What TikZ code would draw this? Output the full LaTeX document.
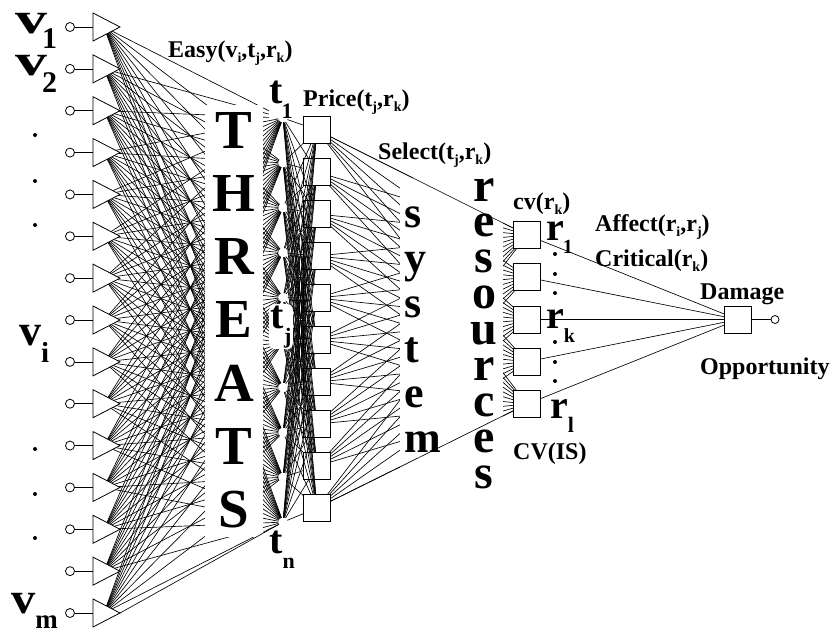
\documentclass[tikz,border=0pt]{standalone}
\usepackage{graphicx}
\usepackage{fontspec}
\setmainfont{Liberation Serif}
\newcommand\fsz[1]{\fontsize{#1}{#1}\selectfont}
\newcommand\lsb[1]{\raisebox{-5pt}{\fsz{14}#1}}
\begin{document}
\begin{tikzpicture}[x=1pt,y=-1pt,
  conn/.style={line width=0.65pt},
  inport/.style={circle,draw,line width=0.8pt,fill=white,minimum size=9pt,inner sep=0pt},
  hub/.style={circle,inner sep=0pt,minimum size=0pt},
  trishape/.style={draw,line width=0.8pt,fill=white},
  tnode/.style={circle,fill=white,minimum size=9pt,inner sep=0pt,path picture={\fill (path picture bounding box.center) circle (1.7pt);}},
  sqbox/.style={rectangle,draw,line width=0.8pt,fill=white,minimum size=27pt,inner sep=0pt},
  bigl/.style={font=\fsz{55}\bfseries,inner sep=0pt,anchor=base},
  sysl/.style={font=\fsz{44}\bfseries,inner sep=0pt,anchor=base west},
  resl/.style={font=\fsz{48}\bfseries,inner sep=0pt,anchor=base},
  lab/.style={font=\fsz{24}\bfseries,inner sep=0pt,anchor=base west},
  sym/.style={font=\bfseries,inner sep=0pt,anchor=base west},
  dotm/.style={fill,circle,minimum size=4pt,inner sep=0pt},
]
\useasboundingbox (0,0) rectangle (835,635);
% inputs (hub node inside each triangle)
\foreach \i in {1,...,15}{
  \pgfmathsetmacro\yy{27+41.857*(\i-1)}
  \node[inport] (c\i) at (70,\yy) {};
  \node[hub] (v\i) at (104,\yy) {};
}
% threat nodes
\foreach \j in {1,...,10}{
  \pgfmathsetmacro\yy{118+44.9*(\j-1)}
  \node[tnode] (t\j) at (283,\yy) {};
}
% system squares
\foreach \k in {1,...,10}{
  \pgfmathsetmacro\yy{130+42*(\k-1)}
  \node[sqbox] (s\k) at (317,\yy) {};
}
% resource squares
\foreach \k in {1,...,5}{
  \pgfmathsetmacro\yy{235+42.25*(\k-1)}
  \node[sqbox] (r\k) at (527,\yy) {};
}
\node[sqbox] (dmg) at (738,319.5) {};
\node[inport,minimum size=8pt] (out) at (775,319.5) {};
\draw[conn] (dmg) -- (out);
% connections
\foreach \i in {1,...,15}{
  \draw[conn] (c\i) -- (v\i);
  \foreach \j in {1,...,10}{\draw[conn] (v\i) -- (t\j);}
}
\foreach \j in {1,...,10}{\foreach \k in {1,...,10}{\draw[conn] (t\j) -- (s\k);}}
\foreach \k in {1,...,10}{\foreach \l in {1,...,5}{\draw[conn] (s\k) -- (r\l);}}
\foreach \l in {1,...,5}{\draw[conn] (r\l) -- (dmg);}
% input triangles drawn over the line starts
\foreach \i in {1,...,15}{
  \pgfmathsetmacro\yy{27+41.857*(\i-1)}
  \draw[trishape] (120,\yy) -- (93,\yy-14) -- (93,\yy+14) -- cycle;
}
% white columns behind the big words
\fill[white] (205,105) rectangle (263,537);
\fill[white] (400,178) rectangle (503,470);
\draw[conn] (s1) -- (r1);
\draw[conn] (s10) -- (r5);
\draw[conn] (120,613) -- (t10);
% big words
\foreach \ch [count=\n] in {T,H,R,E,A,T,S}{
  \pgfmathsetmacro\yy{148+63.3*(\n-1)}
  \node[bigl] (th\n) at (234,\yy) {\ch};
}
\foreach \ch [count=\n] in {s,y,s,t,e,m}{
  \pgfmathsetmacro\yy{227+45*(\n-1)}
  \node[sysl] (sy\n) at (404,\yy) {\ch};
}
\foreach \ch [count=\n] in {r,e,s,o,u,r,c,e,s}{
  \pgfmathsetmacro\yy{201+35.9*(\n-1)}
  \node[resl] (re\n) at (484,\yy) {\ch};
}
% t labels
\node[sym,fill=white] (tl1) at (269,103) {\fsz{40}t\kern-1pt\raisebox{-15pt}{\fsz{22}1}};
\node[sym,fill=white,rounded corners=6pt,inner sep=1.5pt] (tlj) at (269,328) {\fsz{40}t\raisebox{-15pt}{\fsz{22}j}};
\node[sym,fill=white] (tln) at (269,553) {\fsz{40}t\raisebox{-15pt}{\fsz{22}n}};
% v labels
\node[sym] (lv1) at (15,33) {\scalebox{1.45}[1]{\fsz{44}v}\kern-5pt\raisebox{-15pt}{\fsz{30}1}};
\node[sym] (lv2) at (15,75) {\scalebox{1.45}[1]{\fsz{44}v}\kern-5pt\raisebox{-17pt}{\fsz{30}2}};
\node[sym] (lvi) at (19,345) {\fsz{44}v\raisebox{-17pt}{\fsz{29}i}};
\node[sym] (lvm) at (11,613) {\scalebox{1.1}[1]{\fsz{44}v}\raisebox{-15pt}{\fsz{27}m}};
\foreach \yy [count=\n] in {135,181,225,449,494,538}{
  \node[dotm] (vd\n) at (35,\yy) {};
}
% r labels
\node[sym] (lr1) at (546,240) {\fsz{40}r\kern-1pt\raisebox{-13pt}{\fsz{20}1}};
\node[sym] (lrk) at (546,328) {\fsz{40}r\raisebox{-14pt}{\fsz{20}k}};
\node[sym] (lrl) at (550,418) {\fsz{40}r\raisebox{-14pt}{\fsz{22}l}};
\foreach \yy [count=\n] in {254,274,293,342,362,381}{
  \node[dotm] (rd\n) at (555,\yy) {};
}
% text labels
\node[lab] (easy) at (168,57) {Easy(v\lsb{i},t\lsb{j},r\lsb{k})};
\node[lab] (price) at (303,106) {Price(t\lsb{j},r\lsb{k})};
\node[lab] (select) at (378,159) {Select(t\lsb{j},r\lsb{k})};
\node[lab] (cv) at (513,209) {cv(r\lsb{k})};
\node[lab] (affect) at (595,231) {Affect(r\lsb{i},r\lsb{j})};
\node[lab] (crit) at (595,266) {Critical(r\lsb{k})};
\node[lab] (damage) at (700,299) {Damage};
\node[lab] (opp) at (700,374) {Opportunity};
\node[lab] (cvis) at (513,459) {CV(IS)};
\end{tikzpicture}
\end{document}
